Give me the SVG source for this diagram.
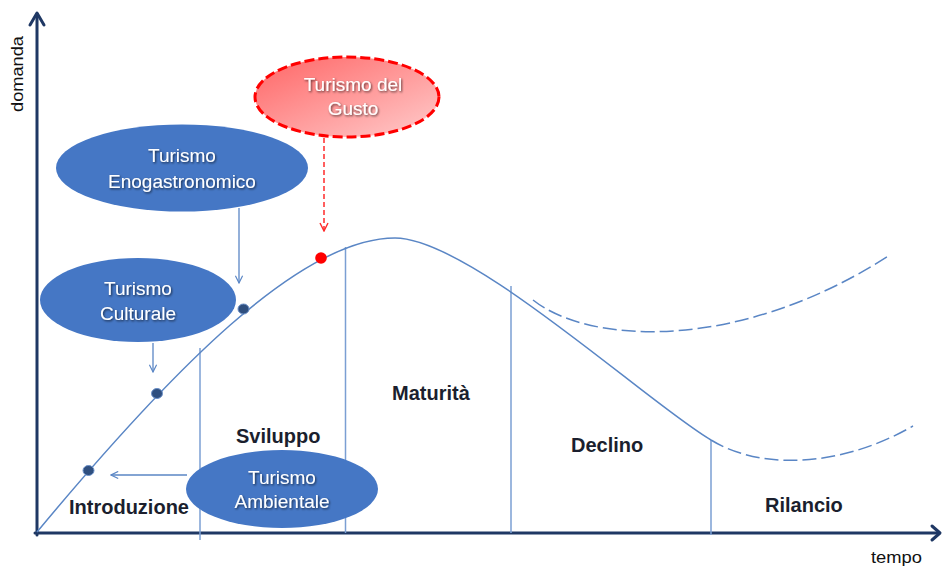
<svg xmlns="http://www.w3.org/2000/svg" width="943" height="567" viewBox="0 0 943 567">
<style>
.axis{stroke:#1f3864;stroke-width:3;fill:none;stroke-linecap:round;stroke-linejoin:round}
.curve{stroke:#5a86c5;stroke-width:1.5;fill:none}
.dash{stroke:#5a86c5;stroke-width:1.5;fill:none;stroke-dasharray:14 5}
.vline{stroke:#7b9fd3;stroke-width:1.5}
.conn{stroke:#5a86c5;stroke-width:1.3;fill:none}
.rconn{stroke:#ff2a2a;stroke-width:1.5;fill:none;stroke-dasharray:5 3}
.blue{fill:#4577c5}
.wt{font-family:"Liberation Sans",Arial,sans-serif;font-size:19px;fill:#ffffff;text-anchor:middle;filter:url(#ts)}
.phase{font-family:"Liberation Sans",Arial,sans-serif;font-size:20px;font-weight:bold;fill:#1b1f2e}
.ax{font-family:"Liberation Sans",Arial,sans-serif;font-size:17px;fill:#111111}
.dot{fill:#2f4f7f;stroke:#6a8fc8;stroke-width:1}
</style>
<defs>
<filter id="ts" x="-10%" y="-30%" width="120%" height="160%">
<feDropShadow dx="1" dy="1.2" stdDeviation="0.8" flood-color="#000" flood-opacity="0.65"/>
</filter>
<linearGradient id="rg" x1="0" y1="0" x2="1" y2="1">
<stop offset="0" stop-color="#ff6565"/>
<stop offset="1" stop-color="#ffcccc"/>
</linearGradient>
<marker id="ab" viewBox="0 0 10 10" refX="9" refY="5" markerWidth="9" markerHeight="9" orient="auto" markerUnits="userSpaceOnUse">
<path d="M1,1 L9,5 L1,9" fill="none" stroke="#5a86c5" stroke-width="1.3"/>
</marker>
<marker id="ar" viewBox="0 0 10 10" refX="9" refY="5" markerWidth="10" markerHeight="10" orient="auto" markerUnits="userSpaceOnUse">
<path d="M1,1 L9,5 L1,9" fill="none" stroke="#ff2a2a" stroke-width="1.4"/>
</marker>
</defs>
<rect width="943" height="567" fill="#ffffff"/>

<g id="axes">
<path class="axis" d="M37,535 L37,14"/>
<path class="axis" d="M30,25 L37,13 L44,25"/>
<path class="axis" d="M35,533 L939,533"/>
<path class="axis" d="M932,526 L940,533 L932,540"/>
<text class="ax" transform="translate(23,112) rotate(-90)" font-size="15" textLength="76" lengthAdjust="spacingAndGlyphs">domanda</text>
<text class="ax" x="871" y="563" textLength="51" lengthAdjust="spacingAndGlyphs">tempo</text>
</g>

<g id="phase-lines">
<line class="vline" x1="200" y1="348" x2="200" y2="540"/>
<line class="vline" x1="345.5" y1="247" x2="345.5" y2="533"/>
<line class="vline" x1="511" y1="286" x2="511" y2="533"/>
<line class="vline" x1="711" y1="440" x2="711" y2="535"/>
</g>

<g id="curve">
<path class="curve" d="M37,532 C170,372 300,238 395,238 C470,238 650,405 711,440"/>
<path class="dash" d="M711,440 C760,470 840,468 913,426"/>
<path class="dash" d="M533,300 C590,345 740,352 890,255"/>
</g>

<g id="phase-labels">
<text class="phase" x="69" y="514">Introduzione</text>
<text class="phase" x="236" y="443">Sviluppo</text>
<text class="phase" x="392" y="400">Maturità</text>
<text class="phase" x="571" y="452">Declino</text>
<text class="phase" x="765" y="512">Rilancio</text>
</g>

<g id="connectors">
<line class="conn" x1="239" y1="208" x2="239" y2="283" marker-end="url(#ab)"/>
<line class="conn" x1="153" y1="343" x2="153" y2="372" marker-end="url(#ab)"/>
<line class="conn" x1="187" y1="475" x2="111" y2="475" marker-end="url(#ab)"/>
<line class="rconn" x1="324" y1="138" x2="324" y2="231" marker-end="url(#ar)"/>
</g>

<g id="points">
<ellipse class="dot" cx="88.5" cy="470.5" rx="5.5" ry="5"/>
<ellipse class="dot" cx="157" cy="393.5" rx="5.5" ry="5"/>
<ellipse class="dot" cx="243.5" cy="309" rx="5.5" ry="5"/>
<circle cx="321" cy="258" r="5.8" fill="#ff0000"/>
</g>

<g id="node-enogastronomico">
<ellipse class="blue" cx="182" cy="168" rx="126" ry="43.5"/>
<text class="wt" x="182" y="162">Turismo</text>
<text class="wt" x="182" y="188">Enogastronomico</text>
</g>

<g id="node-culturale">
<ellipse class="blue" cx="138" cy="300" rx="98" ry="42"/>
<text class="wt" x="138" y="295">Turismo</text>
<text class="wt" x="138" y="320">Culturale</text>
</g>

<g id="node-ambientale">
<ellipse class="blue" cx="282" cy="489" rx="96" ry="39"/>
<text class="wt" x="282" y="484">Turismo</text>
<text class="wt" x="282" y="508">Ambientale</text>
</g>

<g id="node-gusto">
<ellipse cx="347" cy="97" rx="92" ry="40" fill="url(#rg)" stroke="#ff0000" stroke-width="3" stroke-dasharray="10 4"/>
<text class="wt" x="353" y="91">Turismo del</text>
<text class="wt" x="353" y="115">Gusto</text>
</g>
</svg>
